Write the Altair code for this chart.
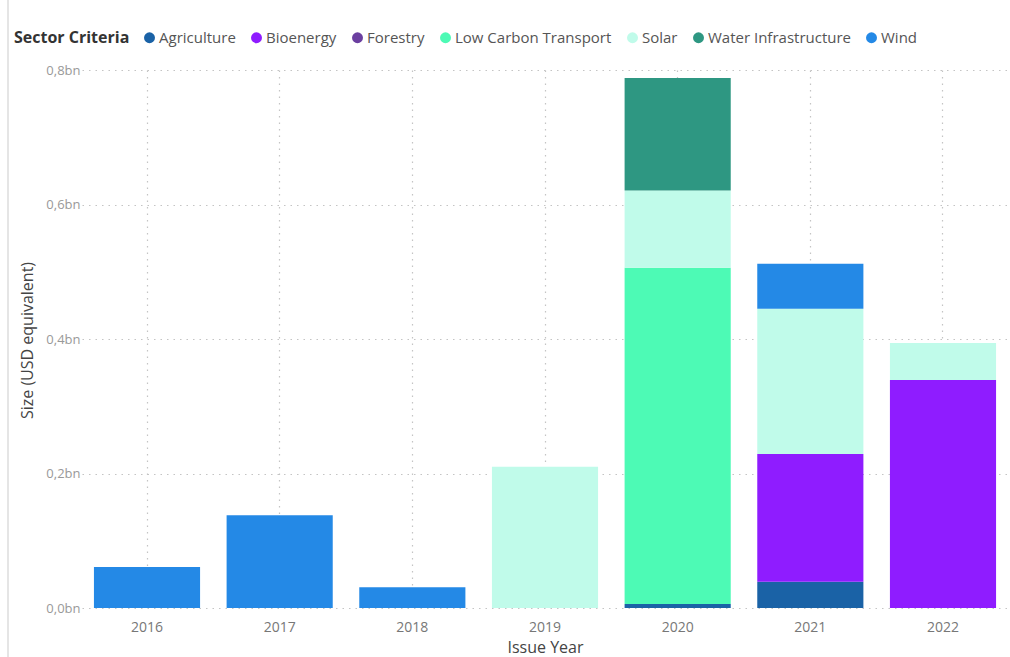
import altair as alt
import pandas as pd

years = ["2016", "2017", "2018", "2019", "2020", "2021", "2022"]
sectors = ["Agriculture", "Bioenergy", "Forestry", "Low Carbon Transport",
           "Solar", "Water Infrastructure", "Wind"]
colors = ["#1A62A6", "#8F1CFF", "#6B3FA0", "#4DFAB5", "#C0FBEA", "#2E9782", "#2489E6"]

# values in USD bn
agriculture = [0, 0, 0, 0, 0.006, 0.039, 0]
bioenergy = [0, 0, 0, 0, 0, 0.190, 0.339]
forestry = [0, 0, 0, 0, 0, 0, 0]
low_carbon_transport = [0, 0, 0, 0, 0.500, 0, 0]
solar = [0, 0, 0, 0.210, 0.115, 0.216, 0.055]
water_infrastructure = [0, 0, 0, 0, 0.167, 0, 0]
wind = [0.061, 0.138, 0.031, 0, 0, 0.067, 0]

series = [agriculture, bioenergy, forestry, low_carbon_transport,
          solar, water_infrastructure, wind]

rows = []
for si, (name, vals) in enumerate(zip(sectors, series)):
    for y, v in zip(years, vals):
        if v > 0:
            rows.append({"year": y, "sector": name, "value": v, "idx": si})
df = pd.DataFrame(rows)

FONT = "Open Sans"

bars = alt.Chart(df).mark_bar().encode(
    x=alt.X("year:N", sort=years,
            scale=alt.Scale(paddingInner=0.2, paddingOuter=0.09),
            axis=alt.Axis(title="Issue Year", labelAngle=0, grid=True,
                          gridDash=[1.5, 5], gridColor="#c4c4c4", gridWidth=1.2,
                          domain=False, ticks=False, labelPadding=12,
                          labelColor="#777", labelFontSize=14, labelFont=FONT,
                          titleFont=FONT, titleFontSize=16, titleColor="#444",
                          titleFontWeight="normal", titleY=39,
                          titleBaseline="middle")),
    y=alt.Y("value:Q", stack="zero",
            scale=alt.Scale(domain=[0, 0.8], nice=False),
            axis=alt.Axis(title="Size (USD equivalent)",
                          values=[0, 0.2, 0.4, 0.6, 0.8],
                          labelExpr="replace(format(datum.value, '.1f'), '.', ',') + 'bn'",
                          grid=True, gridDash=[1.5, 5], gridColor="#c4c4c4", gridWidth=1.2,
                          domain=False, ticks=False, labelPadding=2,
                          labelColor="#999", labelFontSize=13, labelFont=FONT,
                          titleFont=FONT, titleFontSize=16, titleColor="#444",
                          titleFontWeight="normal", titleX=-55, titleY=270,
                          titleAngle=-90, titleAlign="center",
                          titleBaseline="middle")),
    color=alt.Color("sector:N",
                    scale=alt.Scale(domain=sectors, range=colors),
                    legend=alt.Legend(title="Sector Criteria", orient="none",
                                      direction="horizontal", titleOrient="left",
                                      legendX=-68, legendY=-40,
                                      symbolType="circle", symbolSize=120,
                                      symbolStrokeWidth=0, labelOffset=2,
                                      columnPadding=13, titlePadding=12,
                                      labelFont=FONT, labelFontSize=15,
                                      labelColor="#555", titleFont=FONT,
                                      titleFontSize=16, titleColor="#333",
                                      titleFontWeight="bold", labelLimit=300)),
    order=alt.Order("idx:Q", sort="ascending"),
)

border = alt.Chart(alt.Data(values=[{}])).mark_rule(color="#dcdcdc", strokeWidth=1.5).encode(
    x=alt.value(-74), y=alt.value(-70), y2=alt.value(587)
)

chart = alt.layer(bars, border).properties(
    width=926, height=538,
    padding={"left": 82, "top": 70, "right": 2, "bottom": 49},
    autosize=alt.AutoSizeParams(type="none"),
).configure_view(stroke=None)

chart.save("out.html", embed_options={"renderer": "svg", "actions": False})
